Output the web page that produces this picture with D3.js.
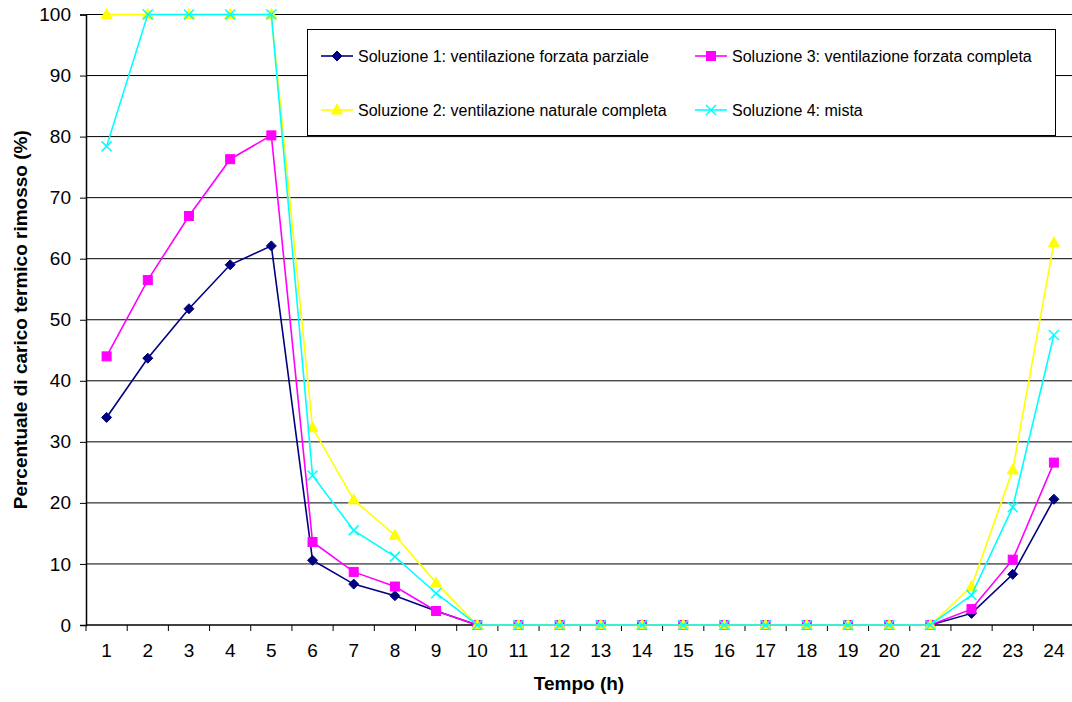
<!DOCTYPE html>
<html>
<head>
<meta charset="utf-8">
<script src="https://cdn.jsdelivr.net/npm/d3@7"></script>
<style>
  html, body { margin: 0; padding: 0; background: #fff; }
  svg { display: block; font-family: "Liberation Sans", Arial, sans-serif; }
</style>
</head>
<body>
<svg id="chart" width="1072" height="702"></svg>
<script>
// Hours of the day
const hours = d3.range(1, 25);

// Percentage of thermal load removed, per solution
const sol1 = [34.0, 43.7, 51.8, 59.0, 62.1, 10.6, 6.7, 4.8, 2.3, 0, 0, 0, 0, 0, 0, 0, 0, 0, 0, 0, 0, 1.9, 8.3, 20.6];
const sol3 = [44.0, 56.5, 67.0, 76.3, 80.2, 13.6, 8.7, 6.3, 2.3, 0, 0, 0, 0, 0, 0, 0, 0, 0, 0, 0, 0, 2.6, 10.7, 26.6];
const sol2 = [100, 100, 100, 100, 100, 32.3, 20.5, 14.7, 6.9, 0, 0, 0, 0, 0, 0, 0, 0, 0, 0, 0, 0, 6.3, 25.4, 62.6];
const sol4 = [78.4, 100, 100, 100, 100, 24.5, 15.5, 11.2, 5.2, 0, 0, 0, 0, 0, 0, 0, 0, 0, 0, 0, 0, 4.9, 19.3, 47.5];

const yTicks = d3.range(0, 101, 10);

const series = [
  { name: "Soluzione 1: ventilazione forzata parziale", values: sol1, color: "#000080", marker: "diamond" },
  { name: "Soluzione 3: ventilazione forzata completa", values: sol3, color: "#FF00FF", marker: "square" },
  { name: "Soluzione 2: ventilazione naturale completa", values: sol2, color: "#FFFF00", marker: "triangle" },
  { name: "Soluzione 4: mista", values: sol4, color: "#00FFFF", marker: "cross" }
];

const svg = d3.select("#chart");
const plot = { left: 86, right: 1074.5, top: 14.5, bottom: 625 };
const FONT = "'Liberation Sans', Arial, sans-serif";

const x = d3.scaleBand().domain(hours).range([plot.left, plot.right]);
const y = d3.scaleLinear().domain([0, 100]).range([plot.bottom, plot.top]);
const cx = d => x(d) + x.bandwidth() / 2;

// Horizontal gridlines
svg.append("g")
  .selectAll("line")
  .data(yTicks.filter(t => t > 0))
  .join("line")
  .attr("x1", plot.left).attr("x2", plot.right)
  .attr("y1", d => y(d)).attr("y2", d => y(d))
  .attr("stroke", "#000").attr("stroke-width", 1);

// Y axis
const yAxis = svg.append("g")
  .attr("transform", `translate(${plot.left},0)`)
  .call(d3.axisLeft(y).tickValues(yTicks).tickSize(6).tickPadding(9));
yAxis.select(".domain").attr("stroke", "#000").attr("stroke-width", 1.5);
yAxis.selectAll(".tick line").attr("stroke", "#000");
yAxis.selectAll("text").attr("font-size", 19).attr("fill", "#000").attr("font-family", FONT);

// X axis: labels centred on categories, ticks on category boundaries
const xAxis = svg.append("g")
  .attr("transform", `translate(0,${plot.bottom})`)
  .call(d3.axisBottom(x).tickSize(0).tickPadding(19));
xAxis.select(".domain").remove();
xAxis.selectAll("text").attr("font-size", 19).attr("fill", "#000").attr("font-family", FONT);
svg.append("g")
  .selectAll("line")
  .data(hours.map(h => x(h)).concat([plot.right]))
  .join("line")
  .attr("x1", d => d).attr("x2", d => d)
  .attr("y1", plot.bottom).attr("y2", plot.bottom + 6)
  .attr("stroke", "#000");
svg.append("line")
  .attr("x1", plot.left).attr("x2", plot.right)
  .attr("y1", plot.bottom).attr("y2", plot.bottom)
  .attr("stroke", "#000").attr("stroke-width", 1.5);

// Axis titles
svg.append("text")
  .attr("x", (plot.left + 1072) / 2).attr("y", 690)
  .attr("text-anchor", "middle")
  .attr("font-size", 19).attr("font-weight", "bold")
  .text("Tempo (h)");
svg.append("text")
  .attr("transform", `translate(27,${(plot.top + plot.bottom) / 2}) rotate(-90)`)
  .attr("text-anchor", "middle")
  .attr("font-size", 19).attr("font-weight", "bold")
  .text("Percentuale di carico termico rimosso (%)");

// Marker shapes
function drawMarker(g, type, color) {
  if (type === "diamond") {
    g.append("path").attr("d", "M0,-5L5,0L0,5L-5,0Z").attr("fill", color).attr("stroke", color);
  } else if (type === "square") {
    g.append("rect").attr("x", -4.5).attr("y", -4.5).attr("width", 9).attr("height", 9)
      .attr("fill", color).attr("stroke", color);
  } else if (type === "triangle") {
    g.append("path").attr("d", "M0,-6L5.5,4L-5.5,4Z").attr("fill", color).attr("stroke", color);
  } else {
    g.append("path").attr("d", "M-5,-5L5,5M-5,5L5,-5").attr("fill", "none")
      .attr("stroke", color).attr("stroke-width", 1.5);
  }
}

const line = d3.line().x((d, i) => cx(hours[i])).y(d => y(d));

series.forEach(s => {
  const g = svg.append("g");
  g.append("path")
    .attr("d", line(s.values))
    .attr("fill", "none")
    .attr("stroke", s.color)
    .attr("stroke-width", 1.6);
  s.values.forEach((v, i) => {
    const m = g.append("g").attr("transform", `translate(${cx(hours[i])},${y(v)})`);
    drawMarker(m, s.marker, s.color);
  });
});

// Legend
const legend = svg.append("g");
legend.append("rect")
  .attr("x", 307.5).attr("y", 29.5).attr("width", 748).attr("height", 106)
  .attr("fill", "#fff").attr("stroke", "#000").attr("stroke-width", 1);
const legendPos = [
  { x: 321, y: 56 }, { x: 695, y: 56 },
  { x: 321, y: 110 }, { x: 695, y: 110 }
];
series.forEach((s, i) => {
  const p = legendPos[i];
  const item = legend.append("g").attr("transform", `translate(${p.x},${p.y})`);
  item.append("line").attr("x1", 0).attr("x2", 32).attr("y1", 0).attr("y2", 0)
    .attr("stroke", s.color).attr("stroke-width", 1.6);
  drawMarker(item.append("g").attr("transform", "translate(16,0)"), s.marker, s.color);
  item.append("text").attr("x", 37).attr("y", 0).attr("dy", "0.35em")
    .attr("font-size", 16).attr("fill", "#000").text(s.name);
});
</script>
</body>
</html>
